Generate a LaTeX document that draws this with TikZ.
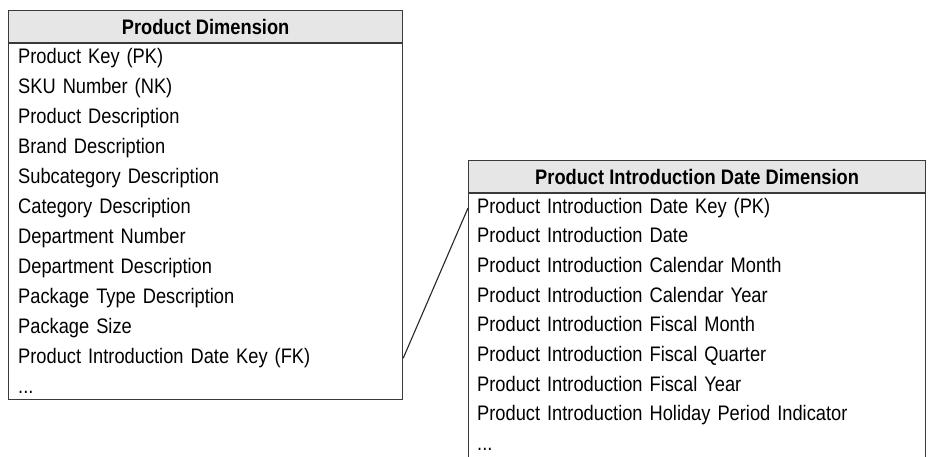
\documentclass[tikz,border=0pt]{standalone}
\usepackage{fontspec}
\setmainfont{Liberation Sans}[FakeStretch=0.87]
\usetikzlibrary{positioning}
\definecolor{boxline}{HTML}{3A3A3A}
\definecolor{headgray}{HTML}{E6E6E6}
\tikzset{%
  head/.style = {rectangle,draw=boxline,fill=headgray,line width=1.2pt,
        anchor=north west,minimum height=32pt,inner sep=0pt,font=\bfseries},
  body/.style = {rectangle,draw=boxline,line width=1.2pt,
        anchor=north west,inner sep=0pt},
  pdrow/.style = {inner sep=0pt,minimum height=29.6pt,text width=380pt,
        align=left,text height=14pt,text depth=4pt},
  pirow/.style = {inner sep=0pt,minimum height=29.3pt,text width=440pt,
        align=left,text height=14pt,text depth=4pt},
  link/.style = {-,line width=1.1pt,black!85}
}

\begin{document}
\fontsize{21}{24}\selectfont
\begin{tikzpicture}[x=1pt,y=-1pt]
    \useasboundingbox (0,0) rectangle (933,456);
    % product dimension
    \node[head,minimum width=394pt] (pdhead) at (8,10) {Product Dimension};
    \node[body,minimum width=394pt,minimum height=356pt] (pdbody) at (pdhead.south west) {};
    \node[pdrow,below right=0pt and 10pt of pdbody.north west,anchor=north west] (pdkey) {Product Key (PK)};
    \node[pdrow,below=0pt of pdkey] (pdsku) {SKU Number (NK)};
    \node[pdrow,below=0pt of pdsku] (pddesc) {Product Description};
    \node[pdrow,below=0pt of pddesc] (pdbrand) {Brand Description};
    \node[pdrow,below=0pt of pdbrand] (pdsubcat) {Subcategory Description};
    \node[pdrow,below=0pt of pdsubcat] (pdcat) {Category Description};
    \node[pdrow,below=0pt of pdcat] (pddeptno) {Department Number};
    \node[pdrow,below=0pt of pddeptno] (pddept) {Department Description};
    \node[pdrow,below=0pt of pddept] (pdpack) {Package Type Description};
    \node[pdrow,below=0pt of pdpack] (pdsize) {Package Size};
    \node[pdrow,below=0pt of pdsize] (pdfk) {Product Introduction Date Key (FK)};
    \node[pdrow,below=0pt of pdfk] (pdmore) {...};
    % product introduction date dimension
    \node[head,minimum width=457pt] (pihead) at (468,160) {Product Introduction Date Dimension};
    \node[body,minimum width=457pt,minimum height=268pt] (pibody) at (pihead.south west) {};
    \node[pirow,below right=0pt and 9pt of pibody.north west,anchor=north west] (pipk) {Product Introduction Date Key (PK)};
    \node[pirow,below=0pt of pipk] (pidate) {Product Introduction Date};
    \node[pirow,below=0pt of pidate] (pimonth) {Product Introduction Calendar Month};
    \node[pirow,below=0pt of pimonth] (piyear) {Product Introduction Calendar Year};
    \node[pirow,below=0pt of piyear] (pifmonth) {Product Introduction Fiscal Month};
    \node[pirow,below=0pt of pifmonth] (pifquarter) {Product Introduction Fiscal Quarter};
    \node[pirow,below=0pt of pifquarter] (pifyear) {Product Introduction Fiscal Year};
    \node[pirow,below=0pt of pifyear] (piholiday) {Product Introduction Holiday Period Indicator};
    \node[pirow,below=0pt of piholiday] (pimore) {...};
    % foreign key link
    \draw[link] (pdbody.east |- pdfk) -- (pibody.west |- pipk);
\end{tikzpicture}
\end{document}
